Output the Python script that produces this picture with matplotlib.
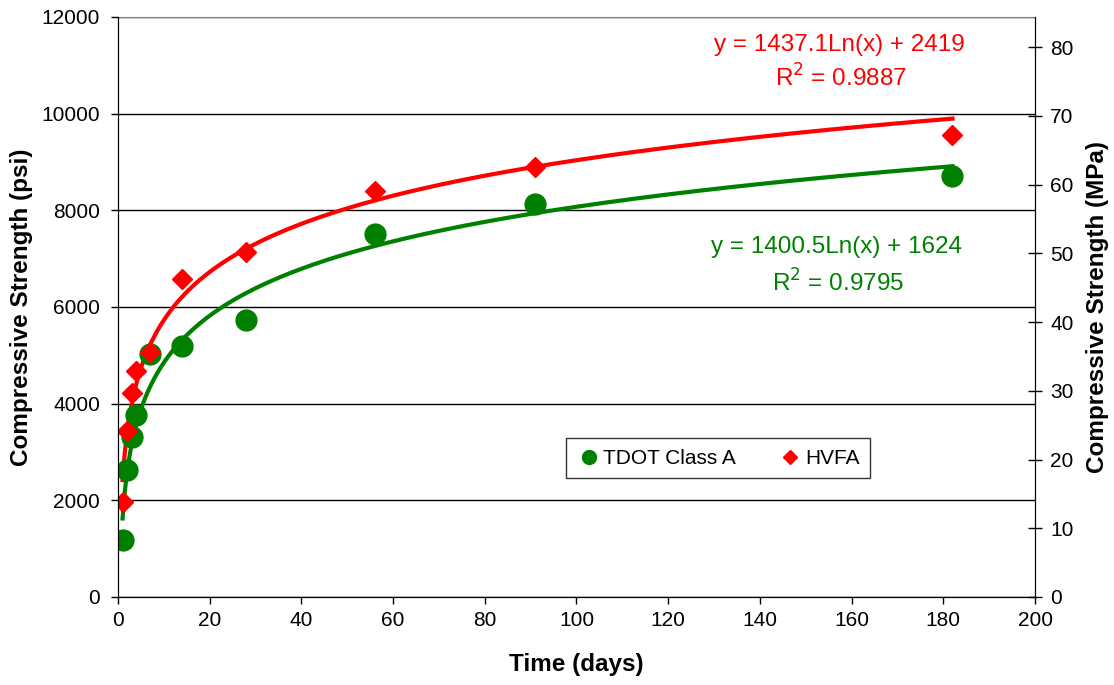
import numpy as np
import matplotlib
matplotlib.use("Agg")
import matplotlib.pyplot as plt
from matplotlib.lines import Line2D

plt.rcParams['font.family'] = ['Liberation Sans', 'DejaVu Sans']

# Data
tdot_days = [1, 2, 3, 4, 7, 14, 28, 56, 91, 182]
tdot_psi = [1180, 2630, 3315, 3760, 5020, 5200, 5730, 7510, 8140, 8700]
hvfa_days = [1, 2, 3, 4, 7, 14, 28, 56, 91, 182]
hvfa_psi = [1970, 3440, 4210, 4680, 5070, 6580, 7140, 8400, 8900, 9550]

tdot_fit = (1400.5, 1624, "0.9795")
hvfa_fit = (1437.1, 2419, "0.9887")

green = "#008000"
red = "#FF0000"

fig = plt.figure(figsize=(11.14, 6.85), dpi=100)
ax = fig.add_axes([0.1059, 0.1285, 0.8232, 0.8467])

xs = np.linspace(1, 182, 400)
ax.plot(xs, tdot_fit[0] * np.log(xs) + tdot_fit[1], color=green, lw=3, zorder=3)
ax.plot(xs, hvfa_fit[0] * np.log(xs) + hvfa_fit[1], color=red, lw=3, zorder=3)

ax.plot(tdot_days, tdot_psi, 'o', color=green, ms=15, ls='none', zorder=4)
ax.plot(hvfa_days, hvfa_psi, 'D', color=red, ms=10.5, ls='none', zorder=5)

ax.set_xlim(0, 200)
ax.set_ylim(0, 12000)
ax.set_xticks(np.arange(0, 201, 20))
ax.set_yticks(np.arange(0, 12001, 2000))
ax.yaxis.grid(True, color='black', lw=1)
ax.set_axisbelow(True)
ax.tick_params(axis='both', direction='out', labelsize=15, length=5, width=1)
ax.tick_params(axis='x', pad=5)
ax.tick_params(axis='y', pad=8)
ax.set_xlabel("Time (days)", fontsize=17.5, fontweight='bold', va='center')
ax.set_ylabel("Compressive Strength (psi)", fontsize=17.5, fontweight='bold', va='center')
ax.xaxis.set_label_coords(0.5, -0.117)
ax.yaxis.set_label_coords(-0.1055, 0.5)
ax.spines['top'].set_color('#808080')
for s in ['left', 'bottom', 'right']:
    ax.spines[s].set_color('black')

ax2 = ax.twinx()
ax2.set_ylim(0, 84.4)
ax2.set_yticks(np.arange(0, 81, 10))
ax2.tick_params(axis='y', direction='inout', labelsize=15, length=10, width=1, pad=6)
ax2.set_ylabel("Compressive Strength (MPa)", fontsize=17.5, fontweight='bold', va='center')
ax2.yaxis.set_label_coords(1.0676, 0.5)
ax2.spines['top'].set_visible(False)

ax.text(157.3, 11420, f"y = {hvfa_fit[0]}Ln(x) + {hvfa_fit[1]}", color=red,
        fontsize=17.5, ha='center', va='center')
ax.text(157.6, 10740, r"R$^{2}$ = " + hvfa_fit[2], color=red,
        fontsize=17.5, ha='center', va='center')
ax.text(156.8, 7240, f"y = {tdot_fit[0]}Ln(x) + {tdot_fit[1]}", color=green,
        fontsize=17.5, ha='center', va='center')
ax.text(157.0, 6497, r"R$^{2}$ = " + tdot_fit[2], color=green,
        fontsize=17.5, ha='center', va='center')

handles = [Line2D([], [], marker='o', color=green, ls='none', ms=10),
           Line2D([], [], marker='D', color=red, ls='none', ms=7)]
leg = ax.legend(handles, ["TDOT Class A", "HVFA"], ncol=2, loc='center',
                bbox_to_anchor=(0.654, 0.239), fontsize=15, frameon=True,
                fancybox=False, edgecolor='black', handletextpad=0.1,
                columnspacing=2.0, borderpad=0.5, handlelength=1.2)
leg.get_frame().set_linewidth(1)

fig.savefig("out.png", dpi=100)
